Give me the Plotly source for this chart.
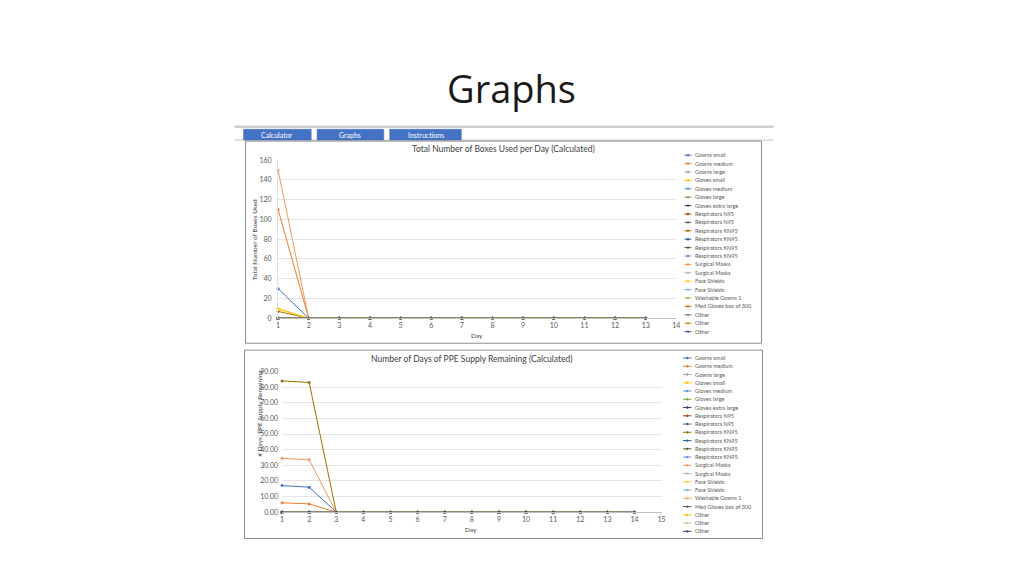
import plotly.graph_objects as go

# ---- data ----
series_names = [
    'Gowns small', 'Gowns medium', 'Gowns large', 'Gloves small', 'Gloves medium',
    'Gloves large', 'Gloves extra large', 'Respirators N95', 'Respirators N95',
    'Respirators KN95', 'Respirators KN95', 'Respirators KN95', 'Respirators KN95',
    'Surgical Masks', 'Surgical Masks', 'Face Shields', 'Face Shields',
    'Washable Gowns 1', 'Med Gloves box of 300', 'Other', 'Other', 'Other',
]

# chart 1: total number of boxes used per day (days 1..13)
days_used = [1, 2, 3, 4, 5, 6, 7, 8, 9, 10, 11, 12, 13]
used_gowns_small = [30, 0, 0, 0, 0, 0, 0, 0, 0, 0, 0, 0, 0]
used_gowns_medium = [110, 0, 0, 0, 0, 0, 0, 0, 0, 0, 0, 0, 0]
used_gloves_small = [10, 0, 0, 0, 0, 0, 0, 0, 0, 0, 0, 0, 0]
used_kn95 = [7, 0, 0, 0, 0, 0, 0, 0, 0, 0, 0, 0, 0]
used_surgical = [150, 0, 0, 0, 0, 0, 0, 0, 0, 0, 0, 0, 0]
used_face_shields = [9, 0, 0, 0, 0, 0, 0, 0, 0, 0, 0, 0, 0]
used_zero = [0, 0, 0, 0, 0, 0, 0, 0, 0, 0, 0, 0, 0]

# chart 2: number of days of PPE supply remaining (days 1..14)
days_left = [1, 2, 3, 4, 5, 6, 7, 8, 9, 10, 11, 12, 13, 14]
left_gowns_small = [17, 16, 0, 0, 0, 0, 0, 0, 0, 0, 0, 0, 0, 0]
left_gowns_medium = [6, 5.3, 0, 0, 0, 0, 0, 0, 0, 0, 0, 0, 0, 0]
left_kn95 = [84, 83, 0, 0, 0, 0, 0, 0, 0, 0, 0, 0, 0, 0]
left_surgical = [34.5, 33.5, 0, 0, 0, 0, 0, 0, 0, 0, 0, 0, 0, 0]
left_zero = [0, 0, 0, 0, 0, 0, 0, 0, 0, 0, 0, 0, 0, 0]

used_values = list([used_zero] * 22)
used_values[0] = used_gowns_small
used_values[1] = used_gowns_medium
used_values[3] = used_gloves_small
used_values[9] = used_kn95
used_values[13] = used_surgical
used_values[15] = used_face_shields

left_values = list([left_zero] * 22)
left_values[0] = left_gowns_small
left_values[1] = left_gowns_medium
left_values[9] = left_kn95
left_values[13] = left_surgical

# Excel-ish series colours
colors1 = ['#4472C4', '#ED7D31', '#A5A5A5', '#FFC000', '#5B9BD5', '#70AD47', '#264478',
           '#9E480E', '#636363', '#997300', '#255E91', '#43682B', '#698ED0', '#F1975A',
           '#B7B7B7', '#FFCD33', '#7CAFDD', '#8CC168', '#E46C0A', '#7F7F7F', '#CC9A00',
           '#3A5A9A']
colors2 = ['#4472C4', '#ED7D31', '#A5A5A5', '#FFC000', '#5B9BD5', '#70AD47', '#264478',
           '#9E480E', '#636363', '#997300', '#255E91', '#43682B', '#698ED0', '#F1975A',
           '#B7B7B7', '#FFCD33', '#7CAFDD', '#F4A460', '#4D5C73', '#FFC000', '#A9D18E',
           '#2F4B7C']

W, H = 1024, 576
FONT = 'Lato'


def px(x):
    return x / W


def py(y):
    return 1 - y / H


def note(x, y, text, size, color='#404040', family=FONT, xanchor='center', angle=0):
    return dict(x=px(x), y=py(y), xref='paper', yref='paper', text=text, showarrow=False,
                xanchor=xanchor, yanchor='middle', textangle=angle,
                font=dict(family=family, size=size, color=color))


fig = go.Figure()

for i, name in enumerate(series_names):
    fig.add_trace(go.Scatter(
        x=days_used, y=used_values[i], mode='lines+markers', name=name,
        line=dict(color=colors1[i], width=1), marker=dict(size=3, color=colors1[i]),
        cliponaxis=False, showlegend=False, xaxis='x', yaxis='y',
    ))
for i, name in enumerate(series_names):
    fig.add_trace(go.Scatter(
        x=days_left, y=left_values[i], mode='lines+markers', name=name,
        line=dict(color=colors2[i], width=1), marker=dict(size=3, color=colors2[i]),
        cliponaxis=False, showlegend=False, xaxis='x2', yaxis='y2',
    ))

tickfont = dict(family=FONT, size=7, color='#595959')
grid = '#E4E4E4'

shapes = []
annotations = []

# toolbar
shapes.append(dict(type='line', xref='paper', yref='paper', x0=px(234), x1=px(776),
                   y0=py(123.5), y1=py(123.5), line=dict(color='#CFCFCF', width=2.5)))
shapes.append(dict(type='line', xref='paper', yref='paper', x0=px(234), x1=px(776),
                   y0=py(137), y1=py(137), line=dict(color='#C4C4C4', width=1)))
for label, x0, x1 in [('Calculator', 243, 311), ('Graphs', 317, 384), ('Instructions', 390, 462)]:
    shapes.append(dict(type='rect', xref='paper', yref='paper', x0=px(x0), x1=px(x1),
                       y0=py(137), y1=py(126), fillcolor='#4472C4',
                       line=dict(color='#3A64B0', width=0.5)))
    annotations.append(note((x0 + x1) / 2, 131.5, label, 7, color='white'))

# chart frames
shapes.append(dict(type='rect', xref='paper', yref='paper', x0=px(245), x1=px(764),
                   y0=py(343), y1=py(138), line=dict(color='#8C8C8C', width=1)))
shapes.append(dict(type='rect', xref='paper', yref='paper', x0=px(244), x1=px(765),
                   y0=py(541), y1=py(350), line=dict(color='#8C8C8C', width=1)))

# titles
annotations.append(note(512, 84, 'Graphs', 38, color='#1a1a1a', family='Open Sans'))
annotations.append(note(504, 146, 'Total Number of Boxes Used per Day (Calculated)', 8.5))
annotations.append(note(472, 358.5, 'Number of Days of PPE Supply Remaining (Calculated)', 8.5))
annotations.append(note(478, 335, 'Day', 6.5))
annotations.append(note(472, 532, 'Day', 6.5))
annotations.append(note(254, 238, 'Total Number of Boxes Used', 6.5, angle=-90))
annotations.append(note(259, 414, '# Days  PPE Supply Remaining', 6.5, angle=-90))

# hand-drawn legends (Excel packs 22 entries tightly)
for colors, x0, x1, xt, ytop, step in [(colors1, 686.5, 693.5, 695, 152.3, 8.52),
                                        (colors2, 685, 693.5, 695.5, 358, 8.37)]:
    for i, name in enumerate(series_names):
        yy = ytop + i * step
        shapes.append(dict(type='line', xref='paper', yref='paper', x0=px(x0), x1=px(x1),
                           y0=py(yy), y1=py(yy), line=dict(color=colors[i], width=1)))
        xm = (x0 + x1) / 2
        shapes.append(dict(type='circle', xref='paper', yref='paper',
                           x0=px(xm - 1.2), x1=px(xm + 1.2), y0=py(yy + 1.2), y1=py(yy - 1.2),
                           fillcolor=colors[i], line=dict(width=0)))
        annotations.append(note(xt, yy, name, 5.5, color='#595959', xanchor='left'))

fig.update_layout(
    width=W, height=H,
    margin=dict(l=0, r=0, t=0, b=0),
    paper_bgcolor='white', plot_bgcolor='white',
    showlegend=False,
    xaxis=dict(domain=[px(277.7), px(678.3)], range=[1, 14], tick0=1, dtick=1,
               showgrid=False, zeroline=False, showline=True, linecolor='#BFBFBF',
               tickfont=tickfont, anchor='y'),
    yaxis=dict(domain=[py(317.7), py(157.3)], range=[0, 160], dtick=20,
               gridcolor=grid, zeroline=False, showline=True, linecolor='#E0E0E0',
               tickfont=tickfont, ticklabelstandoff=4, anchor='x'),
    xaxis2=dict(domain=[px(281.7), px(663.5)], range=[1, 15], tick0=1, dtick=1,
                showgrid=False, zeroline=False, showline=True, linecolor='#BFBFBF',
                tickfont=tickfont, anchor='y2'),
    yaxis2=dict(domain=[py(514.3), py(371.7)], range=[0, 90], dtick=10, tickformat='.2f',
                gridcolor=grid, zeroline=False, showline=False,
                tickfont=tickfont, ticklabelstandoff=3, anchor='x2'),
    shapes=shapes,
    annotations=annotations,
)

# drop the browser's default body margin so the 1024x576 figure fills the window
fig.write_html('out.html', config={'displayModeBar': False},
               post_script="document.body.style.margin='0';document.body.style.overflow='hidden';")
